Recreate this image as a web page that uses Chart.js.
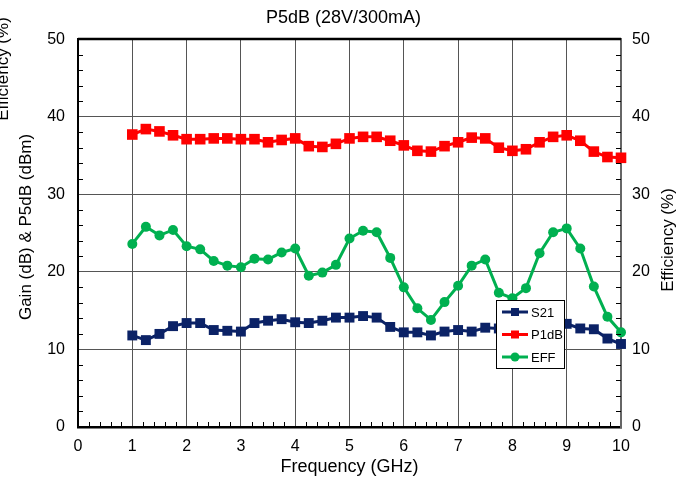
<!DOCTYPE html>
<html>
<head>
<meta charset="utf-8">
<script src="https://cdn.jsdelivr.net/npm/chart.js@4/dist/chart.umd.min.js"></script>
<style>
  html, body { margin: 0; padding: 0; background: #fff; }
  #wrap { width: 687px; height: 481px; position: relative; }
</style>
</head>
<body>
<div id="wrap"><canvas id="myChart"></canvas></div>
<script>
// frequency points (GHz)
var freq = [1, 1.25, 1.5, 1.75, 2, 2.25, 2.5, 2.75, 3, 3.25, 3.5, 3.75, 4, 4.25, 4.5, 4.75,
            5, 5.25, 5.5, 5.75, 6, 6.25, 6.5, 6.75, 7, 7.25, 7.5, 7.75, 8, 8.25, 8.5, 8.75,
            9, 9.25, 9.5, 9.75, 10];
// gain (dB)
var s21 = [11.8, 11.2, 12.0, 13.0, 13.4, 13.4, 12.5, 12.4, 12.3, 13.4, 13.7, 13.9, 13.5, 13.4, 13.7, 14.1,
           14.1, 14.3, 14.1, 12.9, 12.2, 12.2, 11.8, 12.3, 12.5, 12.3, 12.8, 12.7, 12.9, 12.8, 13.0, 13.2,
           13.3, 12.7, 12.6, 11.4, 10.7];
// output power (dBm)
var p1db = [37.7, 38.4, 38.1, 37.6, 37.1, 37.1, 37.2, 37.2, 37.1, 37.1, 36.7, 37.0, 37.2, 36.2, 36.1, 36.5,
            37.2, 37.4, 37.4, 36.9, 36.3, 35.6, 35.5, 36.2, 36.7, 37.3, 37.2, 36.0, 35.6, 35.8, 36.7, 37.4,
            37.6, 36.9, 35.5, 34.8, 34.7];
// drain efficiency (%)
var eff = [23.6, 25.8, 24.7, 25.4, 23.3, 22.9, 21.4, 20.8, 20.6, 21.7, 21.6, 22.5, 23.0, 19.5, 19.9, 20.9,
           24.3, 25.3, 25.1, 21.8, 18.0, 15.3, 13.8, 16.1, 18.2, 20.8, 21.6, 17.3, 16.6, 17.9, 22.4, 25.1,
           25.6, 23.0, 18.1, 14.2, 12.2];

var xTicks = [0, 1, 2, 3, 4, 5, 6, 7, 8, 9, 10];
var yTicks = [0, 10, 20, 30, 40, 50];

var FONT = '"Liberation Sans", Arial, sans-serif';
var NAVY = '#0b2266', RED = '#ff0000', GREEN = '#00b050';

function pts(ys) {
    return freq.map((f, i) => ({ x: f, y: ys[i] }));
}

function setTicks(list) {
    return function (scale) { scale.ticks = list.map(v => ({ value: v })); };
}

// inward minor ticks, top frame line, rotated axis titles and the boxed legend
var extras = {
    id: 'extras',
    afterDraw(chart) {
        var ctx = chart.ctx, a = chart.chartArea;
        var x = chart.scales.x, y = chart.scales.y, y1 = chart.scales.y1;
        ctx.save();
        ctx.strokeStyle = '#000';
        ctx.lineWidth = 1;
        ctx.beginPath();
        for (var v = 2; v < 50; v += 2) {
            if (v % 10 === 0) continue;
            var py = Math.round(y.getPixelForValue(v)) + 0.5;
            ctx.moveTo(a.left, py); ctx.lineTo(a.left + 5, py);
            var py1 = Math.round(y1.getPixelForValue(v)) + 0.5;
            ctx.moveTo(a.right, py1); ctx.lineTo(a.right - 5, py1);
        }
        for (var i = 1; i < 50; i++) {
            if (i % 5 === 0) continue;
            var px = Math.round(x.getPixelForValue(i / 5)) + 0.5;
            ctx.moveTo(px, a.bottom); ctx.lineTo(px, a.bottom - 5);
        }
        ctx.stroke();

        ctx.lineWidth = 2.5;
        ctx.beginPath();
        ctx.moveTo(a.left, a.top); ctx.lineTo(a.right, a.top);
        ctx.stroke();

        // vertical titles read bottom to top on both sides
        ctx.fillStyle = '#000';
        ctx.textAlign = 'center';
        ctx.textBaseline = 'middle';
        ctx.font = '17px ' + FONT;
        [['Efficiency (%)', 3, 69], ['Gain (dB) & P5dB (dBm)', 26, 227], ['Efficiency (%)', 668, 240]].forEach(function (t) {
            ctx.save();
            ctx.translate(t[1], t[2]);
            ctx.rotate(-Math.PI / 2);
            ctx.fillText(t[0], 0, 0);
            ctx.restore();
        });

        // legend box
        var bx = 496, by = 300, bw = 68, bh = 68;
        ctx.fillStyle = '#fff';
        ctx.fillRect(bx, by, bw, bh);
        ctx.strokeStyle = '#000';
        ctx.lineWidth = 1;
        ctx.strokeRect(bx + 0.5, by + 0.5, bw, bh);
        ctx.font = '13px ' + FONT;
        ctx.textAlign = 'left';
        chart.data.datasets.forEach(function (ds, k) {
            var ly = by + 12 + k * 22.5;
            ctx.strokeStyle = ds.borderColor;
            ctx.lineWidth = 3;
            ctx.beginPath();
            ctx.moveTo(502, ly); ctx.lineTo(528, ly);
            ctx.stroke();
            ctx.fillStyle = ds.backgroundColor;
            if (ds.pointStyle === 'circle') {
                ctx.beginPath();
                ctx.arc(515, ly, 4.5, 0, Math.PI * 2);
                ctx.fill();
            } else {
                ctx.fillRect(511, ly - 4, 8, 8);
            }
            ctx.fillStyle = '#000';
            ctx.fillText(ds.label, 531, ly + 1);
        });
        ctx.restore();
    }
};

var ctx = document.getElementById('myChart').getContext('2d');
var myChart = new Chart(ctx, {
    type: 'line',
    data: {
        datasets: [{
            label: 'S21',
            data: pts(s21),
            yAxisID: 'y',
            borderColor: NAVY,
            backgroundColor: NAVY,
            borderWidth: 3,
            pointStyle: 'rect',
            pointRadius: 7,
            pointBorderWidth: 0,
            clip: false
        }, {
            label: 'P1dB',
            data: pts(p1db),
            yAxisID: 'y',
            borderColor: RED,
            backgroundColor: RED,
            borderWidth: 3,
            pointStyle: 'rect',
            pointRadius: 7.5,
            pointBorderWidth: 0,
            clip: false
        }, {
            label: 'EFF',
            data: pts(eff),
            yAxisID: 'y1',
            borderColor: GREEN,
            backgroundColor: GREEN,
            borderWidth: 3,
            pointStyle: 'circle',
            pointRadius: 5,
            pointBorderWidth: 0,
            clip: false
        }]
    },
    options: {
        responsive: true,
        maintainAspectRatio: false,
        animation: false,
        layout: { padding: 0 },
        plugins: {
            legend: { display: false },
            tooltip: { enabled: false },
            title: {
                display: true,
                text: 'P5dB (28V/300mA)',
                color: '#000',
                font: { family: FONT, size: 18, weight: 'normal' },
                padding: { top: 7.5, bottom: 10 }
            }
        },
        scales: {
            x: {
                type: 'linear',
                min: 0,
                max: 10,
                afterBuildTicks: setTicks(xTicks),
                afterFit: function (s) { s.height = 54; },
                grid: { color: '#555', lineWidth: 1, drawTicks: false },
                border: { color: '#000', width: 2.5 },
                ticks: { color: '#000', padding: 10, font: { family: FONT, size: 16 } },
                title: {
                    display: true,
                    text: 'Frequency (GHz)',
                    color: '#000',
                    font: { family: FONT, size: 18 },
                    padding: { top: 0, bottom: 3 }
                }
            },
            y: {
                position: 'left',
                min: 0,
                max: 50,
                afterBuildTicks: setTicks(yTicks),
                afterFit: function (s) { s.width = 78; },
                grid: { color: '#555', lineWidth: 1, drawTicks: false },
                border: { color: '#000', width: 2 },
                ticks: { color: '#000', padding: 13, font: { family: FONT, size: 16 } }
            },
            y1: {
                position: 'right',
                min: 0,
                max: 50,
                afterBuildTicks: setTicks(yTicks),
                afterFit: function (s) { s.width = 66; },
                grid: { drawOnChartArea: false, drawTicks: false },
                border: { color: '#666', width: 2 },
                ticks: { color: '#000', padding: 11, font: { family: FONT, size: 16 } }
            }
        }
    },
    plugins: [extras]
});
</script>
</body>
</html>
